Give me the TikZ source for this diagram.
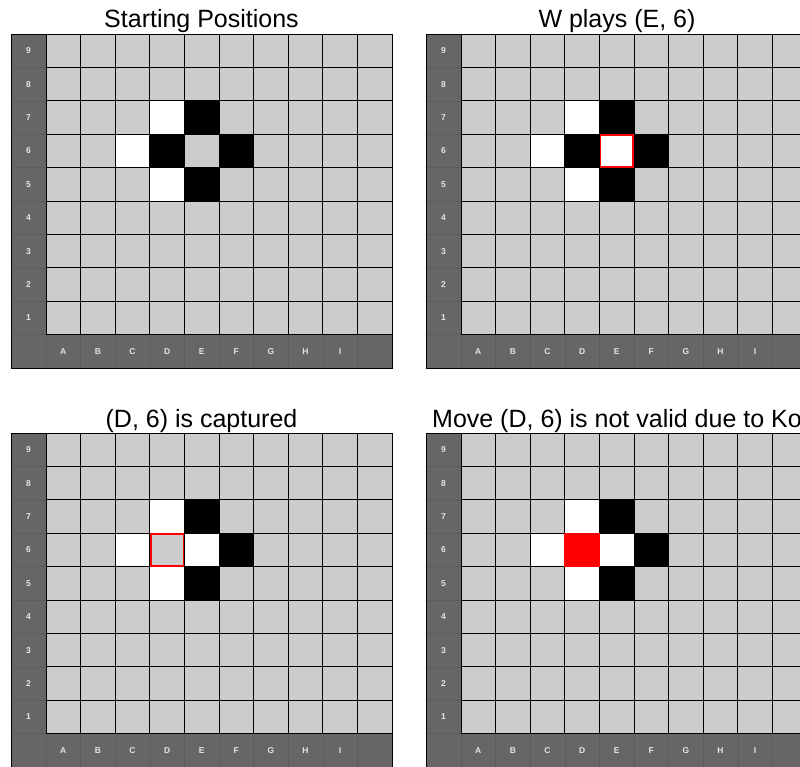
\documentclass[tikz,border=0pt]{standalone}
\usepackage{fontspec}
\setmainfont{Liberation Sans}
\definecolor{BoardGrey}{RGB}{204,204,204}
\definecolor{RimGrey}{RGB}{102,102,102}
\definecolor{RimLine}{RGB}{92,92,92}
\definecolor{LabelGrey}{RGB}{228,228,228}
\definecolor{KoRed}{RGB}{255,0,0}
\usetikzlibrary{positioning}

% one point of a board: column, row, style
\newcommand{\stone}[3]{\filldraw[#3] ({35+(#1-1)*34.6},{(9-#2)*33.4}) rectangle +(34.6,33.4);}
% red marking kept inside the point
\newcommand{\pointmark}[3]{\filldraw[#3] ({35+(#1-1)*34.6+0.9},{(9-#2)*33.4+0.9}) rectangle +(32.8,31.6);}

\begin{document}
\begin{tikzpicture}[x=1pt, y=-1pt,
      every node/.style={inner sep=0pt},
      title/.style={anchor=base, font=\fontsize{25}{25}\selectfont},
      rimlabel/.style={text=LabelGrey, font=\bfseries\fontsize{8.5}{8.5}\selectfont},
      rimline/.style={draw=RimLine, line width=0.6pt},
      gridline/.style={draw=black, line width=1pt},
      blackstone/.style={fill=black, draw=black, line width=1pt},
      whitestone/.style={fill=white, draw=black, line width=1pt},
      lastmove/.style={fill=white, draw=KoRed, line width=1.6pt},
      takenmark/.style={fill=BoardGrey, draw=KoRed, line width=1.6pt},
      kocell/.style={fill=KoRed, draw=KoRed, line width=1pt},
      goboard/.pic={
        % rim with coordinates
        \fill[RimGrey] (0,0) rectangle (381,334);
        \foreach \i in {0,...,9}
          \draw[rimline] (0,{\i*33.4}) rectangle +(35,33.4);
        \foreach \j in {1,...,10}
          \draw[rimline] ({35+(\j-1)*34.6},300.6) rectangle +(34.6,33.4);
        \foreach \n in {1,...,9}
          \node[rimlabel] (row\n) at (17.5,{(9.5-\n)*33.4}) {\n};
        \foreach \c [count=\k] in {A,B,C,D,E,F,G,H,I}
          \node[rimlabel] (col\c) at ({35+(\k-0.5)*34.6},317.3) {\c};
        % playing area
        \fill[BoardGrey] (35,0) rectangle (381,300.6);
        \foreach \j in {0,...,10}
          \draw[gridline] ({35+\j*34.6},0) -- ({35+\j*34.6},300.6);
        \foreach \i in {0,...,9}
          \draw[gridline] (35,{\i*33.4}) -- (381,{\i*33.4});
        \draw[line width=0.8pt] (0,0) rectangle (381,334);
      }
  ]
    \fill[white] (0,0) rectangle (800,766);
    \useasboundingbox (0,0) rectangle (800,766);
    \clip (0,0) rectangle (800,766);

    \node[title] (t1) at (201.5,27) {Starting Positions};
    \node[title] (t2) at (617,27) {W plays (E, 6)};
    \node[title] (t3) at (201.5,427) {(D, 6) is captured};
    \node[title] (t4) at (617,427) {Move (D, 6) is not valid due to Ko};

    % starting positions
    \begin{scope}[shift={(11,34)}]
      \pic (b1) {goboard};
      \stone{4}{7}{whitestone} \stone{3}{6}{whitestone} \stone{4}{5}{whitestone}
      \stone{5}{7}{blackstone} \stone{4}{6}{blackstone}
      \stone{6}{6}{blackstone} \stone{5}{5}{blackstone}
    \end{scope}

    % W plays (E, 6)
    \begin{scope}[shift={(426,34)}]
      \pic (b2) {goboard};
      \stone{4}{7}{whitestone} \stone{3}{6}{whitestone} \stone{4}{5}{whitestone}
      \stone{5}{7}{blackstone} \stone{4}{6}{blackstone}
      \stone{6}{6}{blackstone} \stone{5}{5}{blackstone}
      \stone{5}{6}{whitestone} \pointmark{5}{6}{lastmove}
    \end{scope}

    % (D, 6) is captured
    \begin{scope}[shift={(11,433)}]
      \pic (b3) {goboard};
      \stone{4}{7}{whitestone} \stone{3}{6}{whitestone} \stone{4}{5}{whitestone}
      \stone{5}{6}{whitestone}
      \stone{5}{7}{blackstone} \stone{6}{6}{blackstone} \stone{5}{5}{blackstone}
      \pointmark{4}{6}{takenmark}
    \end{scope}

    % ko
    \begin{scope}[shift={(426,433)}]
      \pic (b4) {goboard};
      \stone{4}{7}{whitestone} \stone{3}{6}{whitestone} \stone{4}{5}{whitestone}
      \stone{5}{6}{whitestone}
      \stone{5}{7}{blackstone} \stone{6}{6}{blackstone} \stone{5}{5}{blackstone}
      \stone{4}{6}{kocell}
    \end{scope}
  \end{tikzpicture}
\end{document}
